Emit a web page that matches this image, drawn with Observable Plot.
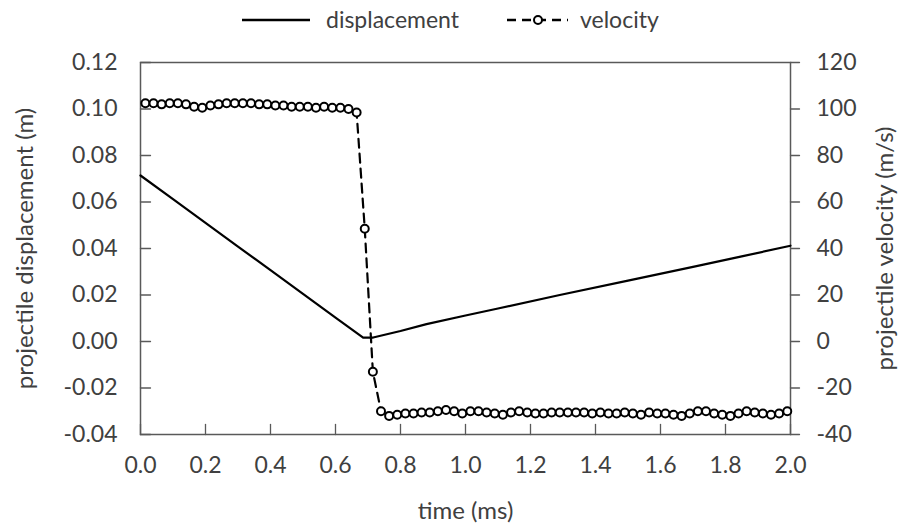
<!DOCTYPE html>
<html><head><meta charset="utf-8">
<script src="https://cdn.jsdelivr.net/npm/d3@7"></script>
<script src="https://cdn.jsdelivr.net/npm/@observablehq/plot@0.6"></script>
<style>
body{margin:0;background:#fff;font-family:Lato,sans-serif}
#legend{display:block}
</style>
</head><body>
<div id="chart"></div>
<script>
// ---- data ----
const dispTime  = [0, 0.1, 0.2, 0.3, 0.4, 0.5, 0.6, 0.685, 0.716, 0.8, 0.88, 1.0, 1.1, 1.29, 1.5, 1.7, 1.85, 2.0];
const dispValue = [0.0714, 0.0612, 0.0510, 0.0408, 0.0307, 0.0205, 0.0103, 0.0017, 0.0017, 0.0045, 0.0075, 0.0112, 0.0142, 0.0200, 0.0262, 0.0321, 0.0366, 0.0412];

const velTime = [
  0.015,0.04,0.065,0.09,0.115,0.14,0.165,0.19,0.215,0.24,
  0.265,0.29,0.315,0.34,0.365,0.39,0.415,0.44,0.465,0.49,
  0.515,0.54,0.565,0.59,0.615,0.64,0.665,0.69,0.715,0.74,
  0.765,0.79,0.815,0.84,0.865,0.89,0.915,0.94,0.965,0.99,
  1.015,1.04,1.065,1.09,1.115,1.14,1.165,1.19,1.215,1.24,
  1.265,1.29,1.315,1.34,1.365,1.39,1.415,1.44,1.465,1.49,
  1.515,1.54,1.565,1.59,1.615,1.64,1.665,1.69,1.715,1.74,
  1.765,1.79,1.815,1.84,1.865,1.89,1.915,1.94,1.965,1.99];
const velValue = [
  102.5,102.5,102,102.5,102.5,102,101,100.5,101.5,102,
  102.5,102.5,102.5,102.5,102,102,101.5,101.5,101,101,
  101,100.5,101,100.5,100.5,100,98.5,48.5,-13,-30,
  -32,-31.5,-31,-31,-30.5,-30.5,-30,-29.5,-30,-31,
  -30,-30,-30.5,-31,-31.5,-30.5,-30,-30.5,-31,-31,
  -30.5,-30.5,-30.5,-30.5,-30.5,-31,-30.5,-31,-31,-30.5,
  -31,-31.5,-30.5,-31,-31,-31.5,-32,-31,-30,-30,
  -31,-31.5,-32,-31,-30,-30.5,-31,-31.5,-31,-30];

const xTicks = [0, 0.2, 0.4, 0.6, 0.8, 1.0, 1.2, 1.4, 1.6, 1.8, 2.0];
const yLeftTicks = [-0.04, -0.02, 0, 0.02, 0.04, 0.06, 0.08, 0.10, 0.12];
const yRightTicks = [-40, -20, 0, 20, 40, 60, 80, 100, 120];
const seriesNames = ["displacement", "velocity"];
const titles = {x: "time (ms)", yLeft: "projectile displacement (m)", yRight: "projectile velocity (m/s)"};

// ---- build ----
const disp = dispTime.map((t, i) => ({t, v: dispValue[i]}));
const vel = velTime.map((t, i) => ({t, v: velValue[i]}));
const velToY = v => v / 1000; // right axis [-40,120] maps onto left [-0.04,0.12]

const axisColor = "#595959";
const textColor = "#404040";
const tickShape = {draw(ctx, l) { ctx.moveTo(0, 0); ctx.lineTo(0, -l); }};

// legend
const leg = d3.create("svg").attr("id", "legend").attr("width", 901).attr("height", 40)
  .style("font-family", "Lato, sans-serif");
leg.append("line").attr("x1", 242).attr("x2", 310).attr("y1", 20).attr("y2", 20)
  .attr("stroke", "black").attr("stroke-width", 2.5);
leg.append("text").attr("x", 326).attr("y", 20).attr("dy", "0.35em")
  .attr("font-size", 23).attr("fill", textColor).text(seriesNames[0]);
leg.append("line").attr("x1", 507).attr("x2", 568).attr("y1", 20).attr("y2", 20)
  .attr("stroke", "black").attr("stroke-width", 2.5).attr("stroke-dasharray", "9,6");
leg.append("circle").attr("cx", 538).attr("cy", 20).attr("r", 4)
  .attr("fill", "white").attr("stroke", "black").attr("stroke-width", 2);
leg.append("text").attr("x", 580).attr("y", 20).attr("dy", "0.35em")
  .attr("font-size", 23).attr("fill", textColor).text(seriesNames[1]);

const chart = Plot.plot({
  width: 901,
  height: 488,
  marginTop: 22,
  marginLeft: 140,
  marginRight: 111,
  marginBottom: 94,
  style: {fontFamily: "Lato, sans-serif", fontSize: "23px", color: textColor, background: "white"},
  x: {domain: [0, 2], axis: null},
  y: {domain: [-0.04, 0.12], axis: null},
  marks: [
    Plot.frame({stroke: axisColor, strokeWidth: 1.5}),
    // tick marks
    Plot.vector(xTicks, {x: d => d, frameAnchor: "bottom", length: 10, rotate: 0, anchor: "start", shape: tickShape, stroke: axisColor, strokeWidth: 1.3}),
    Plot.vector(yLeftTicks, {y: d => d, frameAnchor: "left", length: 10, rotate: 90, anchor: "start", shape: tickShape, stroke: axisColor, strokeWidth: 1.3}),
    Plot.vector(yRightTicks, {y: d => velToY(d), frameAnchor: "right", length: 9, rotate: 90, anchor: "start", shape: tickShape, stroke: axisColor, strokeWidth: 1.3}),
    // tick labels
    Plot.axisX({ticks: xTicks, tickFormat: d => d.toFixed(1), tickSize: 0, tickPadding: 22, label: null, fill: textColor, fontSize: 23}),
    Plot.axisY({anchor: "left", ticks: yLeftTicks, tickFormat: d => d.toFixed(2), tickSize: 0, tickPadding: 23, label: null, fill: textColor, fontSize: 23}),
    Plot.axisY({anchor: "right", ticks: yRightTicks.map(velToY), tickFormat: d => String(Math.round(d * 1000)), tickSize: 0, tickPadding: 26, label: null, fill: textColor, fontSize: 23}),
    // axis titles
    Plot.text([titles.x], {text: d => d, frameAnchor: "bottom", textAnchor: "middle", dy: 84, fontSize: 24, fill: textColor}),
    Plot.text([titles.yLeft], {text: d => d, frameAnchor: "left", textAnchor: "middle", dx: -115, rotate: -90, fontSize: 24, fill: textColor}),
    Plot.text([titles.yRight], {text: d => d, frameAnchor: "right", textAnchor: "middle", dx: 95, rotate: -90, fontSize: 24, fill: textColor}),
    // data
    Plot.line(disp, {x: "t", y: "v", stroke: "black", strokeWidth: 2.2}),
    Plot.line(vel, {x: "t", y: d => velToY(d.v), stroke: "black", strokeWidth: 2.2, strokeDasharray: "9,6"}),
    Plot.dot(vel, {x: "t", y: d => velToY(d.v), r: 4, stroke: "black", strokeWidth: 2, fill: "white"})
  ]
});

const root = document.getElementById("chart");
root.appendChild(leg.node());
root.appendChild(chart);
</script>
</body></html>
